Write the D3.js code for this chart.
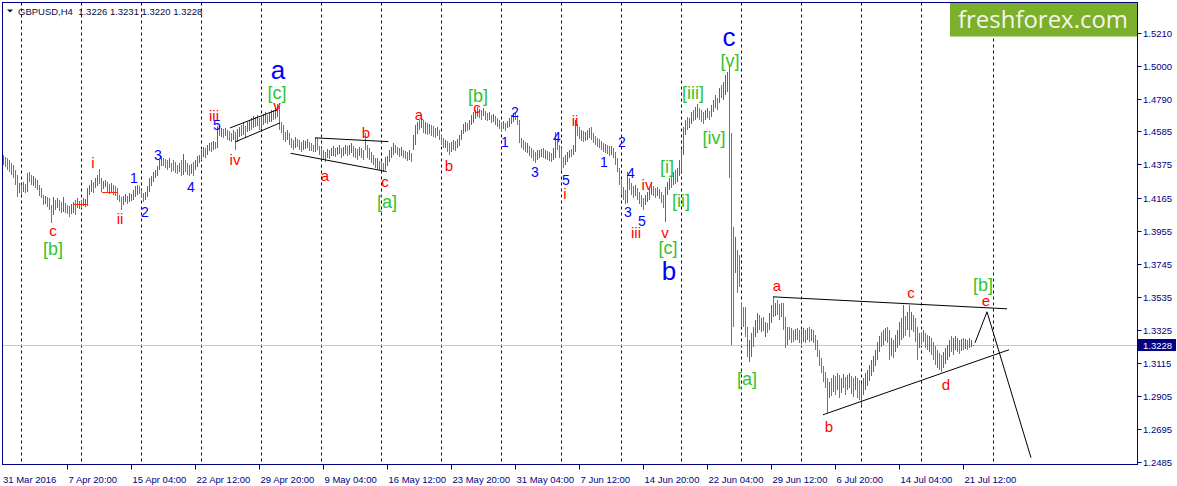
<!DOCTYPE html>
<html><head><meta charset="utf-8">
<script src="https://cdn.jsdelivr.net/npm/d3@7"></script>
<style>html,body{margin:0;padding:0;background:#fff;overflow:hidden}</style>
</head><body><svg id="c" width="1177" height="486"></svg>
<script>
// ---------- data ----------
const symbolTitle = "GBPUSD,H4";
const lastQuote = ["1.3226", "1.3231", "1.3220", "1.3228"];
const lastPrice = 1.3228;
const priceTicks = [1.5210, 1.5000, 1.4790, 1.4585, 1.4375, 1.4165, 1.3955, 1.3745, 1.3535, 1.3325, 1.3115, 1.2905, 1.2695, 1.2485];
const dateLabels = ["31 Mar 2016", "7 Apr 20:00", "15 Apr 04:00", "22 Apr 12:00", "29 Apr 20:00", "9 May 04:00", "16 May 12:00", "23 May 20:00", "31 May 04:00", "7 Jun 12:00", "14 Jun 20:00", "22 Jun 04:00", "29 Jun 12:00", "6 Jul 20:00", "14 Jul 04:00", "21 Jul 12:00"];
const barsPerLabel = 32;
const weekStartBars = [9, 39, 69, 99, 129, 159, 189, 219, 249, 279, 309, 339, 369, 399, 429, 459, 495];

const highs = [
1.4436,1.4424,1.4417,1.4404,1.4385,1.4372,1.4341,1.4309,1.4258,1.4245,
1.4264,1.4252,1.4322,1.4328,1.4309,1.4303,1.4290,1.4277,1.4245,1.4226,
1.4182,1.4176,1.4170,1.4163,1.4118,1.4170,1.4150,1.4163,1.4150,1.4137,
1.4170,1.4131,1.4118,1.4112,1.4125,1.4137,1.4150,1.4163,1.4144,1.4150,
1.4163,1.4157,1.4226,1.4245,1.4277,1.4264,1.4290,1.4309,1.4347,1.4290,
1.4271,1.4277,1.4264,1.4252,1.4258,1.4245,1.4239,1.4226,1.4182,1.4170,
1.4176,1.4189,1.4176,1.4195,1.4189,1.4214,1.4239,1.4245,1.4239,1.4214,
1.4195,1.4201,1.4239,1.4290,1.4303,1.4328,1.4341,1.4366,1.4404,1.4430,
1.4417,1.4411,1.4404,1.4417,1.4385,1.4404,1.4391,1.4372,1.4385,1.4404,
1.4443,1.4404,1.4385,1.4372,1.4379,1.4391,1.4404,1.4430,1.4436,1.4468,
1.4487,1.4481,1.4499,1.4512,1.4518,1.4525,1.4518,1.4620,1.4620,1.4607,
1.4601,1.4607,1.4595,1.4588,1.4576,1.4595,1.4582,1.4601,1.4614,1.4626,
1.4639,1.4620,1.4645,1.4658,1.4671,1.4683,1.4677,1.4690,1.4671,1.4677,
1.4696,1.4709,1.4690,1.4709,1.4722,1.4722,1.4734,1.4760,1.4747,1.4645,
1.4626,1.4582,1.4595,1.4576,1.4544,1.4531,1.4550,1.4537,1.4531,1.4518,
1.4531,1.4525,1.4537,1.4518,1.4512,1.4499,1.4544,1.4544,1.4493,1.4481,
1.4468,1.4455,1.4474,1.4468,1.4481,1.4493,1.4481,1.4487,1.4499,1.4481,
1.4487,1.4499,1.4493,1.4499,1.4512,1.4493,1.4481,1.4474,1.4487,1.4481,
1.4468,1.4576,1.4499,1.4481,1.4455,1.4436,1.4417,1.4417,1.4398,1.4391,
1.4385,1.4424,1.4430,1.4468,1.4487,1.4512,1.4499,1.4487,1.4481,1.4487,
1.4468,1.4462,1.4455,1.4468,1.4449,1.4563,1.4626,1.4645,1.4658,1.4671,
1.4658,1.4645,1.4639,1.4633,1.4626,1.4620,1.4607,1.4614,1.4595,1.4563,
1.4544,1.4531,1.4525,1.4512,1.4518,1.4531,1.4525,1.4537,1.4563,1.4595,
1.4633,1.4645,1.4639,1.4658,1.4690,1.4709,1.4722,1.4741,1.4728,1.4722,
1.4734,1.4715,1.4703,1.4709,1.4690,1.4696,1.4683,1.4671,1.4658,1.4645,
1.4652,1.4639,1.4652,1.4671,1.4690,1.4703,1.4709,1.4690,1.4658,1.4544,
1.4531,1.4518,1.4512,1.4493,1.4481,1.4468,1.4455,1.4468,1.4468,1.4474,
1.4481,1.4468,1.4462,1.4455,1.4449,1.4481,1.4582,1.4544,1.4499,1.4481,
1.4424,1.4436,1.4455,1.4468,1.4474,1.4499,1.4658,1.4633,1.4614,1.4595,
1.4588,1.4582,1.4595,1.4607,1.4614,1.4576,1.4556,1.4544,1.4537,1.4525,
1.4512,1.4506,1.4499,1.4493,1.4493,1.4481,1.4455,1.4417,1.4354,1.4277,
1.4233,1.4214,1.4328,1.4290,1.4258,1.4239,1.4245,1.4226,1.4201,1.4182,
1.4163,1.4182,1.4201,1.4214,1.4258,1.4239,1.4226,1.4233,1.4220,1.4201,
1.4182,1.4233,1.4264,1.4290,1.4309,1.4328,1.4341,1.4354,1.4404,1.4468,
1.4614,1.4658,1.4677,1.4671,1.4709,1.4722,1.4741,1.4760,1.4734,1.4722,
1.4709,1.4722,1.4734,1.4715,1.4753,1.4785,1.4817,1.4798,1.4861,1.4880,
1.4899,1.4944,1.4963,1.5007,1.4576,1.3979,1.3915,1.3833,1.3801,1.3496,
1.3471,1.3471,1.3344,1.3261,1.3306,1.3344,1.3388,1.3433,1.3420,1.3401,
1.3407,1.3375,1.3369,1.3433,1.3483,1.3534,1.3496,1.3515,1.3490,1.3496,
1.3496,1.3407,1.3344,1.3344,1.3337,1.3325,1.3331,1.3337,1.3325,1.3325,
1.3337,1.3325,1.3337,1.3344,1.3331,1.3325,1.3293,1.3261,1.3198,1.3147,
1.3096,1.3058,1.3020,1.2994,1.3020,1.3039,1.3032,1.3052,1.3039,1.3020,
1.3045,1.3026,1.3039,1.3052,1.3032,1.3020,1.3032,1.3020,1.3007,1.2988,
1.3020,1.3052,1.3071,1.3102,1.3134,1.3160,1.3198,1.3249,1.3287,1.3312,
1.3325,1.3337,1.3344,1.3325,1.3274,1.3261,1.3293,1.3325,1.3375,1.3401,
1.3483,1.3414,1.3439,1.3483,1.3439,1.3420,1.3401,1.3344,1.3306,1.3312,
1.3325,1.3306,1.3293,1.3287,1.3274,1.3249,1.3223,1.3198,1.3179,1.3166,
1.3185,1.3210,1.3229,1.3261,1.3287,1.3274,1.3287,1.3274,1.3261,1.3268,
1.3274,1.3268,1.3261,1.3274,1.3261,1.3231];

const lows = [
1.4372,1.4360,1.4341,1.4328,1.4309,1.4290,1.4245,1.4170,1.4195,1.4182,
1.4201,1.4195,1.4201,1.4264,1.4245,1.4239,1.4226,1.4214,1.4176,1.4163,
1.4118,1.4125,1.4106,1.4087,1.4004,1.4055,1.4087,1.4099,1.4081,1.4068,
1.4074,1.4068,1.4062,1.4043,1.4062,1.4068,1.4055,1.4099,1.4093,1.4099,
1.4112,1.4106,1.4112,1.4182,1.4201,1.4195,1.4226,1.4239,1.4252,1.4201,
1.4220,1.4233,1.4201,1.4189,1.4201,1.4182,1.4176,1.4150,1.4137,1.4087,
1.4118,1.4137,1.4125,1.4137,1.4144,1.4150,1.4170,1.4182,1.4189,1.4163,
1.4137,1.4150,1.4170,1.4201,1.4239,1.4264,1.4290,1.4303,1.4341,1.4366,
1.4366,1.4354,1.4341,1.4354,1.4328,1.4334,1.4322,1.4316,1.4328,1.4303,
1.4309,1.4328,1.4309,1.4303,1.4316,1.4303,1.4341,1.4360,1.4385,1.4404,
1.4424,1.4417,1.4436,1.4462,1.4455,1.4468,1.4474,1.4481,1.4556,1.4550,
1.4544,1.4556,1.4531,1.4525,1.4518,1.4531,1.4468,1.4518,1.4550,1.4556,
1.4563,1.4544,1.4582,1.4588,1.4595,1.4607,1.4614,1.4620,1.4595,1.4607,
1.4626,1.4639,1.4633,1.4645,1.4645,1.4658,1.4664,1.4677,1.4595,1.4576,
1.4531,1.4518,1.4531,1.4499,1.4481,1.4468,1.4481,1.4487,1.4468,1.4455,
1.4468,1.4474,1.4481,1.4462,1.4462,1.4455,1.4455,1.4468,1.4436,1.4417,
1.4404,1.4391,1.4417,1.4411,1.4430,1.4430,1.4424,1.4436,1.4443,1.4417,
1.4430,1.4443,1.4430,1.4436,1.4449,1.4424,1.4417,1.4404,1.4430,1.4417,
1.4404,1.4468,1.4417,1.4404,1.4385,1.4372,1.4354,1.4347,1.4341,1.4334,
1.4328,1.4341,1.4366,1.4391,1.4417,1.4436,1.4449,1.4436,1.4424,1.4430,
1.4417,1.4411,1.4398,1.4404,1.4391,1.4468,1.4499,1.4569,1.4595,1.4607,
1.4576,1.4569,1.4563,1.4569,1.4556,1.4550,1.4544,1.4556,1.4531,1.4499,
1.4481,1.4481,1.4455,1.4436,1.4455,1.4468,1.4462,1.4481,1.4493,1.4531,
1.4569,1.4582,1.4588,1.4595,1.4626,1.4639,1.4664,1.4677,1.4671,1.4658,
1.4683,1.4658,1.4652,1.4658,1.4639,1.4645,1.4626,1.4614,1.4601,1.4582,
1.4601,1.4588,1.4607,1.4614,1.4633,1.4645,1.4658,1.4626,1.4512,1.4481,
1.4468,1.4455,1.4449,1.4430,1.4417,1.4398,1.4385,1.4404,1.4417,1.4424,
1.4417,1.4411,1.4404,1.4398,1.4391,1.4404,1.4417,1.4468,1.4417,1.4341,
1.4354,1.4372,1.4391,1.4417,1.4424,1.4436,1.4455,1.4556,1.4537,1.4525,
1.4518,1.4525,1.4531,1.4544,1.4531,1.4512,1.4499,1.4487,1.4481,1.4468,
1.4455,1.4449,1.4443,1.4430,1.4436,1.4417,1.4372,1.4328,1.4245,1.4182,
1.4150,1.4125,1.4131,1.4214,1.4182,1.4163,1.4176,1.4150,1.4125,1.4106,
1.4087,1.4118,1.4137,1.4150,1.4182,1.4176,1.4163,1.4176,1.4157,1.4131,
1.4099,1.4010,1.4182,1.4214,1.4226,1.4245,1.4252,1.4264,1.4303,1.4328,
1.4436,1.4563,1.4595,1.4607,1.4633,1.4652,1.4658,1.4671,1.4658,1.4645,
1.4633,1.4658,1.4671,1.4658,1.4677,1.4709,1.4734,1.4722,1.4766,1.4798,
1.4785,1.4817,1.4836,1.4290,1.3229,1.3344,1.3686,1.3559,1.3598,1.3344,
1.3344,1.3280,1.3153,1.3121,1.3153,1.3217,1.3280,1.3306,1.3325,1.3312,
1.3318,1.3280,1.3306,1.3325,1.3369,1.3407,1.3414,1.3420,1.3388,1.3407,
1.3325,1.3210,1.3229,1.3261,1.3242,1.3249,1.3261,1.3261,1.3242,1.3236,
1.3249,1.3242,1.3261,1.3249,1.3255,1.3242,1.3198,1.3153,1.3096,1.3052,
1.2994,1.2956,1.2797,1.2893,1.2905,1.2931,1.2912,1.2944,1.2893,1.2924,
1.2956,1.2912,1.2944,1.2956,1.2918,1.2899,1.2944,1.2893,1.2880,1.2848,
1.2912,1.2944,1.2969,1.3001,1.3032,1.3058,1.3096,1.3134,1.3185,1.3217,
1.3229,1.3255,1.3242,1.3134,1.3160,1.3147,1.3185,1.3210,1.3229,1.3261,
1.3274,1.3287,1.3325,1.3280,1.3325,1.3312,1.3249,1.3134,1.3210,1.3229,
1.3249,1.3210,1.3198,1.3185,1.3166,1.3134,1.3102,1.3083,1.3071,1.3058,
1.3083,1.3109,1.3134,1.3153,1.3185,1.3166,1.3198,1.3185,1.3172,1.3191,
1.3198,1.3204,1.3198,1.3210,1.3217,1.3220];

// u = bullish bar, d = bearish bar
const dirs =
"udddddddud" + "ududdudddd" + "dudddududd" + "uddduuduud" + "uuuuuduudd" +
"uudduddddd" + "uuduuuuudd" + "duuuuuuuuu" + "ddduddddud" + "uddduduuuu" +
"uduudududu" + "duddduduud" + "uduudududu" + "uuduuduudd" + "dduddduddd" +
"uuuddduddd" + "dduduuduud" + "uuduudddud" + "dddddddudd" + "duuuuudddu" +
"ddduduuudu" + "dududddudd" + "dudduuduuu" + "uuduuuuudd" + "uddududddd" +
"uduuuudddd" + "ddudddduuu" + "duddduuddd" + "duuuduuddu" + "duuudddddd" +
"dudduddddd" + "dduddduddd" + "duuuuddudd" + "duuududuuu" + "uuduuduudd" +
"duuduuudud" + "uuuddduddd" + "ddduuduudu" + "duduududdu" + "dduddduddu" +
"udududdddd" + "dddudududu" + "uduudduddu" + "uuuuuuuuud" + "uudduduuuu" +
"udududddud" + "uddudddudd" + "uuuuduuddu" + "duduuu";

// wave labels: [text, bar index, price]
const redLabels = [["c",25,1.3954],["i",45,1.4385],["ii",58.5,1.4030],["iii",105.5,1.4683],["iv",116,1.4404],["v",137,1.4747],
 ["a",161,1.4303],["b",181.5,1.4576],["c",191,1.4264],["a",208,1.4690],["b",223,1.4366],["c",237,1.4734],
 ["i",281,1.4189],["ii",286,1.4652],["iii",316.5,1.3941],["iv",322,1.4245],["v",331,1.3941],
 ["a",387,1.3604],["b",413,1.2709],["c",454,1.3559],["d",471.5,1.2975],["e",491.5,1.3509]];
const blueNumLabels = [["1",65.5,1.4290],["2",71,1.4074],["3",77.5,1.4436],["4",94,1.4233],["5",107,1.4626],
 ["1",251,1.4518],["2",256,1.4709],["3",266,1.4328],["4",277,1.4550],["5",281.5,1.4277],
 ["1",300.5,1.4391],["2",309.5,1.4518],["4",314,1.4322],["3",312.5,1.4074],["5",319.5,1.4017]];
const greenLabels = [["[b]",25,1.3839],["[c]",137,1.4830],["[a]",192,1.4137],["[b]",237.5,1.4811],["[i]",332,1.4360],
 ["[ii]",339,1.4144],["[iii]",345,1.4830],["[iv]",355.5,1.4544],["[v]",363.5,1.5033],["[c]",332.5,1.3845],
 ["[a]",372,1.3014],["[b]",490,1.3610]];
const bigLabels = [["a",137.5,1.4976],["c",363,1.5185],["b",333,1.3700]];

// trend lines: [bar1, price1, bar2, price2]
const trendLines = [[113.5,1.4607,137,1.4722],[116,1.4518,138.5,1.4639],
 [156,1.4544,192.7,1.4520],[143.8,1.4446,191.8,1.4330],
 [385,1.3534,502,1.3458],[410,1.2785,503,1.3198]];
const projection = [[486,1.3242],[492,1.3439],[514,1.2512]];
const markLevels = [[35,42,1.4125],[49.5,57.5,1.4201]];

// ---------- drawing ----------
const svg = d3.select("#c");
const W = 1177, H = 486;
const pL = 2.5, pR = 1137.5, pT = 2.5, pB = 464.5;
const navy = "#000080";
const font = "'Liberation Sans', Arial, sans-serif";

const x = d3.scaleLinear().domain([0, highs.length - 1]).range([3, 3 + 2 * (highs.length - 1)]);
const y = d3.scaleLinear().domain([1.2485, 1.5210]).range([462, 33]);

svg.append("rect").attr("width", W).attr("height", H).attr("fill", "#fff");

// weekly dashed grid
svg.append("g").selectAll("line").data(weekStartBars).join("line")
  .attr("x1", d => Math.round(x(d)) + 0.5).attr("x2", d => Math.round(x(d)) + 0.5)
  .attr("y1", pT).attr("y2", pB)
  .attr("stroke", navy).attr("stroke-width", 1).attr("stroke-dasharray", "3,3");

// last price line
svg.append("line").attr("x1", pL).attr("x2", pR)
  .attr("y1", Math.round(y(lastPrice)) + 0.5).attr("y2", Math.round(y(lastPrice)) + 0.5)
  .attr("stroke", "#c8c8c8").attr("stroke-width", 1);

// bars
svg.append("g").attr("shape-rendering", "crispEdges").selectAll("line").data(d3.range(highs.length)).join("line")
  .attr("x1", i => Math.round(x(i)) + 0.5).attr("x2", i => Math.round(x(i)) + 0.5)
  .attr("y1", i => y(highs[i])).attr("y2", i => y(lows[i]))
  .attr("stroke", i => dirs[i] === "u" ? "#2e8b2e" : "#ff4500").attr("stroke-width", 1);

// annotation lines
svg.append("g").selectAll("line").data(trendLines).join("line")
  .attr("x1", d => x(d[0])).attr("y1", d => y(d[1])).attr("x2", d => x(d[2])).attr("y2", d => y(d[3]))
  .attr("stroke", "#000").attr("stroke-width", 1);
svg.append("path").attr("d", d3.line().x(d => x(d[0])).y(d => y(d[1]))(projection))
  .attr("fill", "none").attr("stroke", "#000").attr("stroke-width", 1);
svg.append("g").selectAll("line").data(markLevels).join("line")
  .attr("x1", d => x(d[0])).attr("x2", d => x(d[1])).attr("y1", d => Math.round(y(d[2])) + 0.5).attr("y2", d => Math.round(y(d[2])) + 0.5)
  .attr("stroke", "#ff2a00").attr("stroke-width", 1);

// labels
function labels(data, color, size) {
  svg.append("g").selectAll("text").data(data).join("text")
    .attr("x", d => x(d[1])).attr("y", d => y(d[2]))
    .attr("text-anchor", "middle").attr("dominant-baseline", "central")
    .attr("font-family", font).attr("font-size", size).attr("fill", color)
    .text(d => d[0]);
}
labels(redLabels, "#ff0000", 15);
labels(blueNumLabels, "#0000ff", 14);
labels(greenLabels, "#2fc42f", 18);
labels(bigLabels, "#0000ff", 26);

// frame
svg.append("rect").attr("x", pL).attr("y", pT).attr("width", pR - pL).attr("height", pB - pT)
  .attr("fill", "none").attr("stroke", navy).attr("stroke-width", 1);

// price axis
const pa = svg.append("g");
pa.selectAll("line").data(priceTicks).join("line")
  .attr("x1", pR).attr("x2", pR + 4)
  .attr("y1", d => Math.round(y(d)) + 0.5).attr("y2", d => Math.round(y(d)) + 0.5)
  .attr("stroke", navy);
pa.selectAll("text").data(priceTicks).join("text")
  .attr("x", 1143).attr("y", d => y(d) + 4)
  .attr("font-family", font).attr("font-size", 9.5).attr("fill", navy)
  .text(d => d.toFixed(4));
// last price box
svg.append("rect").attr("x", 1138).attr("y", y(lastPrice) - 6).attr("width", 38).attr("height", 12).attr("fill", navy);
svg.append("text").attr("x", 1143).attr("y", y(lastPrice) + 4)
  .attr("font-family", font).attr("font-size", 9.5).attr("fill", "#fff").text(lastPrice.toFixed(4));

// time axis
const ta = svg.append("g");
ta.selectAll("line").data(dateLabels.slice(1)).join("line")
  .attr("x1", (d, k) => Math.round(x((k + 1) * barsPerLabel)) + 0.5).attr("x2", (d, k) => Math.round(x((k + 1) * barsPerLabel)) + 0.5)
  .attr("y1", pB).attr("y2", pB + 5).attr("stroke", navy);
ta.selectAll("text").data(dateLabels).join("text")
  .attr("x", (d, k) => x(k * barsPerLabel) + (k === 0 ? 0 : 1.5)).attr("y", 483)
  .attr("font-family", font).attr("font-size", 9.5).attr("fill", navy)
  .text(d => d);

// header
svg.append("path").attr("d", "M7,9.5 L13,9.5 L10,12.5 Z").attr("fill", "#0b0b3b");
svg.append("text").attr("x", 18).attr("y", 14.5)
  .attr("font-family", font).attr("font-size", 9.5).attr("fill", "#0b0b3b")
  .attr("xml:space", "preserve")
  .text(symbolTitle + "  " + lastQuote.join(" "));

// logo
svg.append("rect").attr("x", 950).attr("y", 3).attr("width", 187).attr("height", 33.5).attr("fill", "#7cb02c");
svg.append("text").attr("x", 958).attr("y", 27.5)
  .attr("font-family", "'Open Sans', 'Noto Sans', sans-serif").attr("font-size", 24).attr("fill", "#f2f7e6")
  .attr("textLength", 170).attr("lengthAdjust", "spacingAndGlyphs")
  .text("freshforex.com");
</script>
</body></html>
